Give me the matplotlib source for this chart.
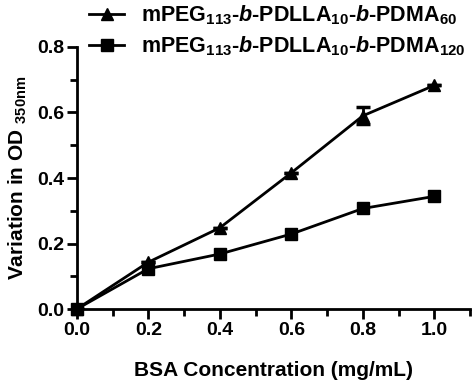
import numpy as np
import matplotlib
matplotlib.use('Agg')
import matplotlib.pyplot as plt
from matplotlib.ticker import MultipleLocator

plt.rcParams['font.family'] = 'Liberation Sans'
plt.rcParams['font.weight'] = 'bold'
plt.rcParams['mathtext.fontset'] = 'custom'
plt.rcParams['mathtext.rm'] = 'Liberation Sans:bold'
plt.rcParams['mathtext.it'] = 'Liberation Sans:italic:bold'
plt.rcParams['mathtext.bf'] = 'Liberation Sans:bold'

# BSA concentration (mg/mL)
conc = [0.0, 0.2, 0.4, 0.6, 0.8, 1.0]
# variation in OD350
od_pdma60 = [0.0, 0.143, 0.248, 0.416, 0.590, 0.683]
err_pdma60 = [0.0, 0.0, 0.0, 0.0, 0.026, 0.0]
od_pdma120 = [0.0, 0.123, 0.168, 0.229, 0.307, 0.344]

label60 = r'mPEG$_{113}$-$b$-PDLLA$_{10}$-$b$-PDMA$_{60}$'
label120 = r'mPEG$_{113}$-$b$-PDLLA$_{10}$-$b$-PDMA$_{120}$'

fig = plt.figure(figsize=(4.74, 3.82), dpi=100)
ax = fig.add_axes([0.162, 0.191, 0.83, 0.686])

l60, = ax.plot(conc, od_pdma60, color='black', lw=2, marker='^', ms=8,
               label=label60, clip_on=False, zorder=3)
ax.errorbar(conc, od_pdma60, yerr=err_pdma60, fmt='none', ecolor='black',
            capsize=5, capthick=2.5, elinewidth=2, zorder=3)
l120, = ax.plot(conc, od_pdma120, color='black', lw=2, marker='s', ms=8,
                label=label120, clip_on=False, zorder=3)

ax.set_xlim(0, 1.1)
ax.set_ylim(0, 0.8)
ax.set_xticks(conc)
ax.set_yticks([0.0, 0.2, 0.4, 0.6, 0.8])
ax.xaxis.set_minor_locator(MultipleLocator(0.1))
ax.yaxis.set_minor_locator(MultipleLocator(0.1))
ax.set_xticklabels(['0.0', '0.2', '0.4', '0.6', '0.8', '1.0'])
ax.set_yticklabels(['0.0', '0.2', '0.4', '0.6', '0.8'])

for s in ['top', 'right']:
    ax.spines[s].set_visible(False)
for s in ['left', 'bottom']:
    ax.spines[s].set_linewidth(2)

ax.tick_params(which='major', direction='out', length=7, width=2, labelsize=14, pad=2)
ax.tick_params(which='minor', direction='out', length=5, width=2)

ax.set_xlabel('BSA Concentration (mg/mL)', fontsize=15, fontweight='bold', labelpad=16)
ax.set_ylabel(r'Variation in OD $_{\mathrm{350nm}}$', fontsize=15, fontweight='bold', labelpad=6)

leg = ax.legend(handles=[l60, l120], loc='lower left', bbox_to_anchor=(0.01, 0.925),
                frameon=False, fontsize=15.5, handlelength=1.6, handletextpad=0.8,
                labelspacing=0.34, borderaxespad=0)

fig.savefig('out.png', dpi=100)
